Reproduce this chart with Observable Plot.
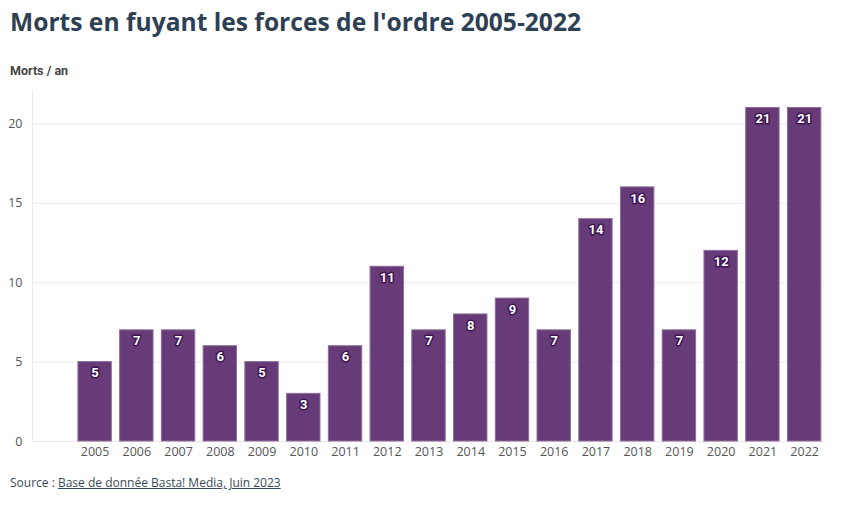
<!DOCTYPE html>
<html>
<head>
<meta charset="utf-8">
<script src="https://cdn.jsdelivr.net/npm/d3@7"></script>
<script src="https://cdn.jsdelivr.net/npm/@observablehq/plot@0.6"></script>
<style>
  html, body { margin: 0; padding: 0; background: #fff; width: 850px; height: 520px; overflow: hidden; }
  body { position: relative; font-family: "Open Sans", Roboto, sans-serif; }
  #title { position: absolute; left: 10px; top: 5px; font-family: "Open Sans", sans-serif; font-size: 24.6px; font-weight: 700; color: #2e4053; }
  #ylabel { position: absolute; left: 10px; top: 63px; font-family: Roboto, sans-serif; font-size: 12.5px; font-weight: 700; color: #444; }
  #chart { position: absolute; left: 0; top: 85px; }
  #source { position: absolute; left: 10px; top: 474px; font-size: 12px; color: #3a4a5a; }
  #source span { text-decoration: underline; }
</style>
</head>
<body>
<div id="title">Morts en fuyant les forces de l'ordre 2005-2022</div>
<div id="ylabel">Morts / an</div>
<div id="chart"></div>
<div id="source">Source : <span>Base de donnée Basta! Media, Juin 2023</span></div>
<script>
const years = ["2005","2006","2007","2008","2009","2010","2011","2012","2013","2014","2015","2016","2017","2018","2019","2020","2021","2022"];
const deaths = [5, 7, 7, 6, 5, 3, 6, 11, 7, 8, 9, 7, 14, 16, 7, 12, 21, 21];
const yTicks = [0, 5, 10, 15, 20];

const data = years.map((y, i) => ({year: y, value: deaths[i]}));
const xDomain = ["2004", ...years];

const chart = Plot.plot({
  width: 850,
  height: 381,
  marginTop: 5,
  marginBottom: 25,
  marginLeft: 32,
  marginRight: 25,
  style: {fontFamily: "'Open Sans', sans-serif", fontSize: "12.5px", color: "#555", background: "#fff"},
  x: {domain: xDomain, paddingInner: 0.2, paddingOuter: 0.1, round: false, label: null, tickSize: 0, tickPadding: 6,
      tickFormat: d => d === "2004" ? "" : d},
  y: {domain: [0, 22.1], ticks: yTicks, label: null, tickSize: 0, tickPadding: 10},
  marks: [
    Plot.ruleY(yTicks, {stroke: "#ebebeb", strokeWidth: 1}),
    Plot.ruleX([0], {x: () => "2004", stroke: "#ebebeb", dx: -20.87}),
    Plot.barY(data, {x: "year", y: "value", fill: "#673b77", stroke: "#8e6d9c", strokeWidth: 1}),
    Plot.text(data, {x: "year", y: "value", text: d => String(d.value), dy: 11,
      fill: "#fff", stroke: "#3b1450", strokeWidth: 3, paintOrder: "stroke",
      fontFamily: "Roboto, sans-serif", fontWeight: 700, fontSize: 13})
  ]
});
document.getElementById("chart").appendChild(chart);
</script>
</body>
</html>
